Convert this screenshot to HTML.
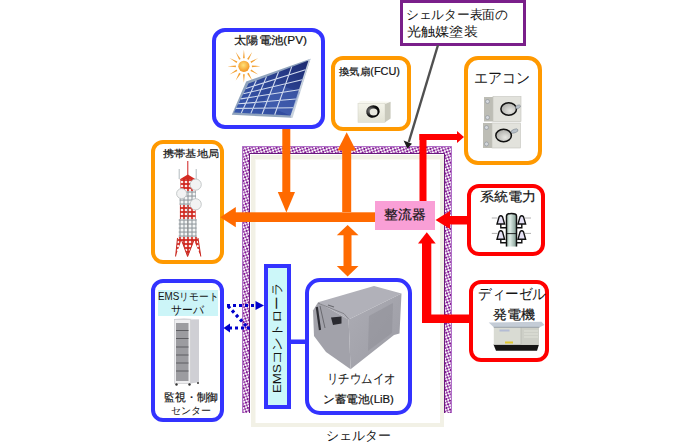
<!DOCTYPE html>
<html><head><meta charset="utf-8">
<style>
html,body{margin:0;padding:0;background:#fff;width:700px;height:443px;overflow:hidden;position:relative}
body{font-family:"Liberation Sans",sans-serif;color:#111}
.b{position:absolute;box-sizing:border-box;background:#fff}
.t{position:absolute;white-space:nowrap;line-height:1;font-size:12px;transform-origin:0 0;z-index:4;color:#141414}
.k{-webkit-text-stroke:0.2px #111}
svg{position:absolute;left:0;top:0}
</style></head><body>

<!-- shelter frame -->
<div class="b" style="left:250.5px;top:155px;width:193px;height:272px;border:4px solid #F2F1E6;background:#FFFFFF;box-shadow:inset 1px 1px 0 #F9F8F2"></div>
<svg width="700" height="443" style="z-index:1">
 <defs>
  <pattern id="pp" width="4" height="4" patternUnits="userSpaceOnUse" patternTransform="rotate(25)">
   <rect width="4" height="4" fill="#FFFFFF"/>
   <circle cx="1" cy="1" r="1.25" fill="#7E1390"/>
   <circle cx="3" cy="3" r="1.1" fill="#8C2A9E"/>
  </pattern>
 </defs>
 <path d="M242 413 V146 H452 V413 H444 V154 H250 V413 Z" fill="url(#pp)"/>
 <path d="M242.5 413 V146.5 H451.5 V413" fill="none" stroke="#B070C8" stroke-width="1"/>
 <path d="M249.5 413 V153.5 H444.5 V413" fill="none" stroke="#6A1A7E" stroke-width="1"/>
</svg>

<!-- boxes -->
<div class="b" style="z-index:2;left:212px;top:28px;width:113px;height:101px;border:4px solid #3333FF;border-radius:13px"></div>
<div class="b" style="z-index:2;left:331px;top:56px;width:80px;height:75px;border:4px solid #FF9900;border-radius:12px"></div>
<div class="b" style="z-index:2;left:464px;top:56px;width:78px;height:108.5px;border:4px solid #FF9900;border-radius:14px"></div>
<div class="b" style="z-index:2;left:151px;top:140px;width:73px;height:124px;border:4px solid #FF9900;border-radius:12px"></div>
<div class="b" style="z-index:2;left:467px;top:184px;width:78px;height:72px;border:4px solid #FF0000;border-radius:12px"></div>
<div class="b" style="z-index:2;left:469px;top:280px;width:80px;height:82px;border:4px solid #FF0000;border-radius:12px"></div>
<div class="b" style="z-index:2;left:151px;top:279px;width:73px;height:143px;border:4px solid #3333FF;border-radius:12px"></div>
<div class="b" style="z-index:2;left:264px;top:264px;width:27px;height:145px;border:4px solid #3333FF;background:#CCF7F9"></div>
<div class="b" style="z-index:2;left:305px;top:278px;width:107px;height:137px;border:4px solid #3333FF;border-radius:15px"></div>
<div class="b" style="z-index:2;left:400px;top:0px;width:126px;height:46px;border:3px solid #7A1F8A"></div>
<div class="b" style="z-index:2;left:375px;top:201px;width:60px;height:29px;background:#F99FD6"></div>
<div class="b" style="z-index:2;left:158px;top:290px;width:60px;height:26px;background:#CCF5F8"></div>

<!-- arrows & icons -->
<svg width="700" height="443" style="z-index:3">
 <!-- orange -->
 <g fill="#FF6A00">
  <rect x="282.3" y="129" width="8" height="65"/>
  <path d="M277.8 192 H295 L286.4 212.5 Z"/>
  <rect x="235" y="212.3" width="140" height="9.7"/>
  <path d="M235.8 207 V227.2 L220.2 217.2 Z"/>
  <rect x="342.2" y="148" width="9" height="64"/>
  <path d="M337.5 150.5 H356 L346.7 132.3 Z"/>
  <rect x="343.5" y="234" width="8" height="33"/>
  <path d="M336.8 235.2 H358.5 L347.6 224.9 Z"/>
  <path d="M336.8 266 H358.5 L347.6 276.5 Z"/>
 </g>
 <!-- red -->
 <g fill="#FF0000">
  <rect x="419.5" y="134" width="7" height="67"/>
  <rect x="419.5" y="134" width="39" height="6"/>
  <path d="M457 131 V143 L464 137 Z"/>
  <rect x="445" y="216" width="22" height="8.5"/>
  <path d="M450 211 V229 L435.5 220 Z"/>
  <rect x="422" y="243" width="9.3" height="80"/>
  <rect x="422" y="314.5" width="49" height="8.5"/>
  <path d="M418 243.5 H435.7 L426.8 232.2 Z"/>
 </g>
 <!-- callout arrow -->
 <line x1="438" y1="45" x2="408.8" y2="142" stroke="#505050" stroke-width="2.4"/>
 <path d="M403.6 140.5 L412 143.8 L407.3 148.6 Z" fill="#1A1A1A"/>
 <!-- ICONS -->
 <defs>
  <radialGradient id="sunc" cx="0.45" cy="0.4" r="0.6"><stop offset="0" stop-color="#FFE27A"/><stop offset="1" stop-color="#F39422"/></radialGradient>
  <linearGradient id="cell" x1="0" y1="1" x2="1" y2="0"><stop offset="0" stop-color="#3A5AB0"/><stop offset="0.55" stop-color="#2C4494"/><stop offset="1" stop-color="#1C2A70"/></linearGradient>
 </defs>
 <!-- sun -->
 <path fill="#F3A236" d="M251.9 67.2 L260.4 66.3 L251.9 65.4 Z M250.4 71.1 L258.2 74.5 L251.3 69.5 Z M247.1 73.7 L252.2 80.6 L248.7 72.8 Z M243.0 74.3 L243.9 82.8 L244.8 74.3 Z M239.1 72.8 L235.7 80.6 L240.7 73.7 Z M236.5 69.5 L229.6 74.5 L237.4 71.1 Z M235.9 65.4 L227.4 66.3 L235.9 67.2 Z M237.4 61.5 L229.6 58.1 L236.5 63.1 Z M240.7 58.9 L235.7 52.0 L239.1 59.8 Z M244.8 58.3 L243.9 49.8 L243.0 58.3 Z M248.7 59.8 L252.2 52.0 L247.1 58.9 Z M251.3 63.1 L258.2 58.0 L250.4 61.5 Z"/>
 <circle cx="243.9" cy="66.3" r="5.6" fill="url(#sunc)"/>
 <!-- solar panel -->
 <path d="M246.2 81.5 L310.5 58.8 L291.5 117.8 L231.8 114.8 Z" fill="#8FA3BD"/>
 <path d="M310.5 58.8 L292.5 118 L290 116 L307.5 60 Z" fill="#C9D3DE"/>
 <path d="M248.5 83.5 L308.5 60.5 L290.5 115.5 L234 112.5 Z" fill="url(#cell)"/>
 <path d="M262 104 L276 84 L300 92 L290.5 115.5 Z" fill="#5A78C8" opacity="0.35"/>
 <path fill="none" stroke="#D0DAEE" stroke-width="1.1" d="M256.3 80.5 L241.3 112.9 M266.5 76.6 L250.9 113.4 M278.5 72.0 L262.2 114.0 M291.7 66.9 L274.7 114.7 M246.0 88.4 L305.4 69.8 M243.4 93.7 L302.2 79.8 M240.8 98.9 L299.0 89.7 M238.3 103.8 L295.9 99.0 M236.0 108.4 L293.0 107.8"/>
 <!-- FCU unit -->
 <defs>
  <linearGradient id="fcuf" x1="0" y1="0" x2="0" y2="1"><stop offset="0" stop-color="#F4F4EA"/><stop offset="1" stop-color="#E2E2D4"/></linearGradient>
  <radialGradient id="ring" cx="0.35" cy="0.35" r="0.7"><stop offset="0" stop-color="#888"/><stop offset="0.6" stop-color="#111"/><stop offset="1" stop-color="#000"/></radialGradient>
  <linearGradient id="pole" x1="0" y1="0" x2="1" y2="0"><stop offset="0" stop-color="#9FB8AE"/><stop offset="0.35" stop-color="#E0EEE8"/><stop offset="1" stop-color="#7E9A90"/></linearGradient>
  <linearGradient id="batr" x1="0" y1="0" x2="1" y2="1"><stop offset="0" stop-color="#ACACB4"/><stop offset="1" stop-color="#9C9CA4"/></linearGradient>
 </defs>
<g transform="translate(0,1)">
 <path d="M358 102.6 Q359 99.7 362 99.7 L390 100.7 L385 103 Z" fill="#F8F8F0"/>
 <rect x="358" y="102.6" width="27" height="18.7" fill="url(#fcuf)" stroke="#D8D8CC" stroke-width="0.6"/>
 <path d="M385 103 L390.6 100.7 L390.6 117.5 L385 121.3 Z" fill="#C9C9BC"/>
 <ellipse cx="372.9" cy="110.5" rx="6.8" ry="6.2" fill="url(#ring)" transform="rotate(-20 372.9 110.5)"/>
 <ellipse cx="373.6" cy="111" rx="3.9" ry="3.6" fill="#E8E8DE"/>
</g>
 <!-- aircon units -->
 <defs><radialGradient id="acr" cx="0.6" cy="0.65" r="0.7"><stop offset="0" stop-color="#E8E8E4"/><stop offset="1" stop-color="#A8A8A4"/></radialGradient></defs>
 <g>
  <rect x="484" y="97" width="9" height="24.5" fill="#BDBDB5"/>
  <rect x="493" y="96.6" width="28" height="25" fill="#E2E2DC" stroke="#C4C4BC" stroke-width="0.6"/>
  <ellipse cx="508.7" cy="109" rx="7.8" ry="6.2" fill="url(#acr)" stroke="#111" stroke-width="1.5"/>
  <circle cx="487.5" cy="101.5" r="2" fill="#D4D8DC" stroke="#8A9098" stroke-width="0.6"/>
  <circle cx="487.5" cy="117.5" r="2" fill="#D4D8DC" stroke="#8A9098" stroke-width="0.6"/>
  <ellipse cx="518" cy="106.8" rx="2.6" ry="1.6" fill="#B8C0C8" stroke="#7A828A" stroke-width="0.5" transform="rotate(-25 518 106.8)"/>
  <rect x="483" y="123" width="9" height="25" fill="#BDBDB5"/>
  <rect x="492" y="123" width="28.5" height="25" fill="#E2E2DC" stroke="#C4C4BC" stroke-width="0.6"/>
  <ellipse cx="503.6" cy="135.5" rx="7.8" ry="6.2" fill="url(#acr)" stroke="#111" stroke-width="1.5"/>
  <circle cx="486.5" cy="127.5" r="2" fill="#D4D8DC" stroke="#8A9098" stroke-width="0.6"/>
  <circle cx="486.5" cy="144" r="2" fill="#D4D8DC" stroke="#8A9098" stroke-width="0.6"/>
  <ellipse cx="514.6" cy="131" rx="3.6" ry="1.8" fill="#B8C0C8" stroke="#7A828A" stroke-width="0.5" transform="rotate(-20 514.6 131)"/>
 </g>
 <!-- tower -->
 <defs>
  <pattern id="latR" width="4" height="4" patternUnits="userSpaceOnUse"><rect width="4" height="4" fill="#D02820"/><circle cx="2" cy="2" r="1.35" fill="#FBEAEA"/></pattern>
  <pattern id="latG" width="4" height="4" patternUnits="userSpaceOnUse"><rect width="4" height="4" fill="#A4AAAE"/><circle cx="2" cy="2" r="1.5" fill="#F4F6F6"/></pattern>
 </defs>
 <g>
  <line x1="187.8" y1="161" x2="187.8" y2="176" stroke="#D02020" stroke-width="1"/>
  <line x1="179.2" y1="169" x2="179.2" y2="179" stroke="#A0AAB0" stroke-width="0.8"/>
  <line x1="196.2" y1="169" x2="196.2" y2="179" stroke="#A0AAB0" stroke-width="0.8"/>
  <path d="M179.5 179.5 L187.8 174.5 L196 179.5 Z" fill="#D42A22"/>
  <rect x="180.4" y="179" width="15" height="12" fill="url(#latR)"/>
  <rect x="179.5" y="191" width="16.5" height="14" fill="url(#latG)"/>
  <rect x="179.9" y="205" width="15.8" height="14" fill="url(#latR)"/>
  <rect x="178.7" y="219" width="18" height="18.5" fill="url(#latG)"/>
  <line x1="187.7" y1="205" x2="187.7" y2="237" stroke="#888" stroke-width="0.7"/>
  <rect x="177.5" y="237" width="20.5" height="4" fill="url(#latR)"/>
  <path d="M177.5 240 L181.5 240 L175.6 256.5 Z M194 240 L198 240 L200.8 256.5 Z M181.5 240 L194 240 L187.6 256.5 Z" fill="url(#latR)"/>
  <path d="M177.5 238 L175.6 256.5 M198 238 L200.8 256.5 M181.5 240 L187.6 256.5 L194 240" stroke="#C82820" stroke-width="1" fill="none"/>
  <circle cx="195.7" cy="184.6" r="5.6" fill="#F2F3F3" stroke="#B8BCBE" stroke-width="0.8"/>
  <circle cx="181.6" cy="193.6" r="5" fill="#F2F3F3" stroke="#B8BCBE" stroke-width="0.8"/>
  <circle cx="195.7" cy="204.3" r="5.6" fill="#F2F3F3" stroke="#B8BCBE" stroke-width="0.8"/>
 </g>
 <!-- pylon -->
 <g stroke="#111" fill="none">
  <path d="M491.8 218 H497.5 M525 218 H531 M491.8 233.4 H497.5 M525 233.4 H531" stroke="#999" stroke-width="0.8"/>
  <path d="M506.5 246.4 V216 Q506.5 213.5 511.5 213.5 Q516.5 213.5 516.5 216 V246.4" fill="url(#pole)" stroke-width="1.5"/>
  <line x1="506.5" y1="233.6" x2="516.5" y2="233.6" stroke-width="0.9"/>
  <path d="M500.8 223.7 V227.8 H506.5 M521.8 223.7 V227.8 H516.5 M500.8 239 V242.8 H506.5 M521.8 239 V242.8 H516.5" stroke-width="1.4"/>
  <path d="M499 217 Q500.8 214.6 502.6 217 L504.6 224 H497 Z M520 217 Q521.8 214.6 523.6 217 L525.6 224 H518 Z M499 232 Q500.8 229.6 502.6 232 L504.6 239.2 H497 Z M520 232 Q521.8 229.6 523.6 232 L525.6 239.2 H518 Z" fill="#E6E2F6" stroke-width="1.4"/>
 </g>
 <!-- server rack -->
 <g>
  <path d="M174.3 319 L184 318 L199 319.5 L199 382 L190.4 383.5 L174.3 383.5 Z" fill="#E4E4E8"/>
  <path d="M190.4 320 L199 319.5 L199 382 L190.4 383.5 Z" fill="#CFCFD4"/>
  <rect x="174.3" y="319.5" width="16.1" height="64" fill="#EEEEF0" stroke="#C8C8CC" stroke-width="0.6"/>
  <rect x="176" y="323" width="12.5" height="58" fill="#9C9CA0"/>
  <path d="M176 330.5 H188.5 M176 338.5 H188.5 M176 347 H188.5 M176 355 H188.5 M176 363 H188.5 M176 371 H188.5" stroke="#5E5E62" stroke-width="1"/>
  <circle cx="176.5" cy="384.5" r="1.2" fill="#333"/><circle cx="189.5" cy="384.5" r="1.2" fill="#333"/><circle cx="198" cy="383" r="1" fill="#333"/>
 </g>
 <!-- generator -->
 <g>
  <path d="M493.5 344.5 H539 L537 350.8 H496 Z" fill="#151515"/>
  <rect x="493.8" y="326.5" width="45.2" height="18.2" fill="#D9DBD3"/>
  <rect x="521" y="326.5" width="18" height="18.2" fill="#CDCFC7"/>
  <path d="M521 326 V344.5" stroke="#B8BAB2" stroke-width="0.8"/>
  <path d="M524 331 H538 M524 334 H538 M524 337 H538" stroke="#E6E8E0" stroke-width="0.8"/>
  <path d="M488.7 322.5 L541.5 321.8 L544.5 325 L539.5 327.3 L493.8 327.3 Z" fill="#C4CCD6"/>
  <path d="M493.8 327.3 H539.5" stroke="#8E969E" stroke-width="0.8"/>
  <rect x="499.5" y="329.5" width="10" height="2" fill="#B4BCD4"/>
  <rect x="505" y="341.5" width="8" height="2" fill="#E0C830"/>
 </g>
 <!-- battery -->
 <g>
  <path d="M318.1 302.3 L374 286 L401.5 293.5 L348.6 319.5 Z" fill="#B1B1B9"/>
  <path d="M348.6 319.5 L401.5 293.5 L399.5 333.5 L394 335 L350.6 369.3 Z" fill="url(#batr)"/>
  <path d="M369 316 L393 303 L392 333 L368 351 Z" fill="#8E8E96" opacity="0.5"/>
  <path d="M313 310.4 L318.1 302.3 L348.6 319.5 L350.6 369.3 L326 352 L314 336 Z" fill="#A2A2AA"/>
  <path d="M316.8 307 L320 330" stroke="#2E2E34" stroke-width="2.2"/>
  <path d="M320 306 L325 328" stroke="#6A6A70" stroke-width="1"/>
  <path d="M331 317.5 L341.5 316.5 L341.5 323.5 L333 325 Z" fill="#2A2A30"/>
  <path d="M318 303 L344 313.7 L349 319.5" stroke="#7A7A80" stroke-width="0.8" fill="none"/>
  <path d="M328 305 L334 307" stroke="#6A6A70" stroke-width="1.2"/>
 </g>
 <!-- blue connector -->
 <rect x="291" y="339.5" width="14" height="4.5" fill="#3333FF"/>
 <!-- dotted -->
 <g stroke="#0000CC" stroke-width="3.2" stroke-dasharray="3 3" fill="none">
  <line x1="227" y1="305.5" x2="256" y2="305.5"/>
  <line x1="228" y1="306" x2="248" y2="328"/>
  <line x1="250" y1="328" x2="230" y2="328"/>
 </g>
 <path d="M255.5 301 V310 L264 305.5 Z" fill="#0000CC"/>
 <path d="M230 323.5 V332.5 L223.5 328 Z" fill="#0000CC"/>
</svg>

<!-- text -->
<div class="t k" style="left:234.01px;top:34.94px;font-size:10.54px;transform:scaleX(1.121)">太陽電池(PV)</div>
<div class="t k" style="left:339.00px;top:67.10px;font-size:10.48px;transform:scaleX(1.043)">換気扇(FCU)</div>
<div class="t" style="left:406.44px;top:8.88px;font-size:12.72px;transform:scaleX(0.980)">シェルター表面の</div>
<div class="t" style="left:407.30px;top:25.78px;font-size:12.82px;transform:scaleX(1.089)">光触媒塗装</div>
<div class="t" style="left:474.48px;top:71.03px;font-size:14.67px;transform:scaleX(0.929)">エアコン</div>
<div class="t k" style="left:162.50px;top:148.84px;font-size:10.26px;transform:scaleX(1.119)">携帯基地局</div>
<div class="t k" style="left:383.66px;top:209.10px;font-size:12.82px;transform:scaleX(1.067)">整流器</div>
<div class="t k" style="left:480.16px;top:191.28px;font-size:12.63px;transform:scaleX(1.087)">系統電力</div>
<div class="t" style="left:478.34px;top:287.19px;font-size:14.74px;transform:scaleX(0.902)">ディーゼル</div>
<div class="t k" style="left:492.66px;top:309.28px;font-size:12.63px;transform:scaleX(1.083)">発電機</div>
<div class="t" style="left:158.26px;top:291.74px;font-size:10.12px;transform:scaleX(0.974)">EMSリモート</div>
<div class="t" style="left:171.17px;top:304.13px;font-size:11.77px;transform:scaleX(0.906)">サーバ</div>
<div class="t k" style="left:163.97px;top:391.83px;font-size:10.77px;transform:scaleX(0.985)">監視・制御</div>
<div class="t" style="left:170.50px;top:406.10px;font-size:10.00px;transform:scaleX(1.000)">センター</div>
<div class="t" style="left:327.15px;top:373.00px;font-size:12.82px;transform:scaleX(0.883)">リチウムイオ</div>
<div class="t k" style="left:323.18px;top:393.73px;font-size:10.63px;transform:scaleX(1.065)">ン蓄電池(LiB)</div>
<div class="t" style="left:325.80px;top:429.71px;font-size:12.89px;transform:scaleX(0.996)">シェルター</div>
<div class="t" style="left:270.53px;top:392.60px;font-size:11.76px;transform:rotate(-90deg) scaleX(1.132)">EMSコントローラ</div>

</body></html>
